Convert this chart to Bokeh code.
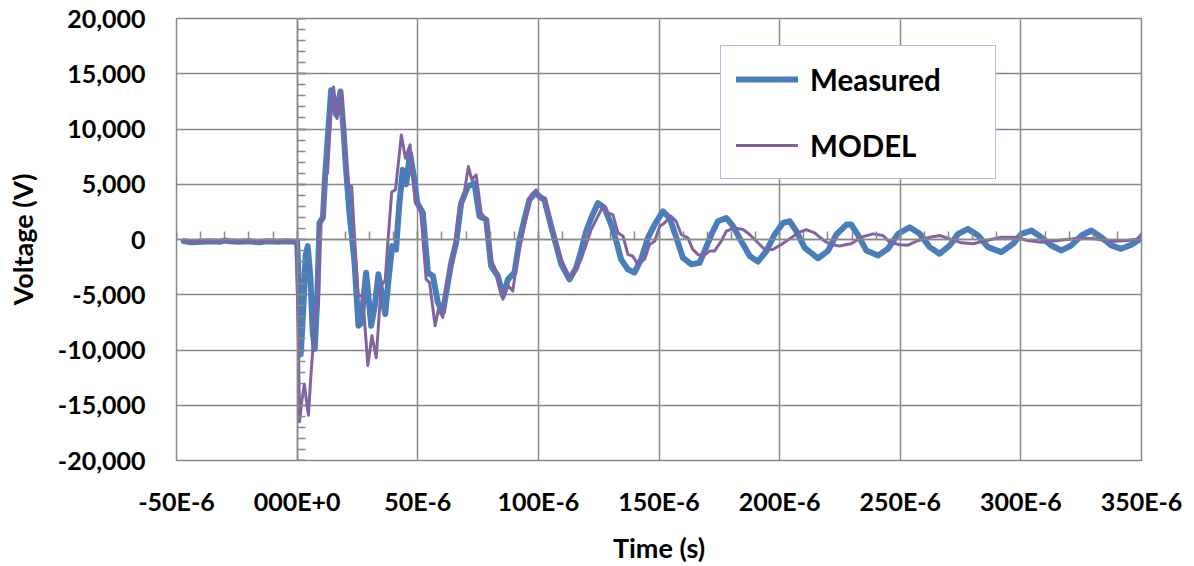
from bokeh.plotting import figure
from bokeh.models import (LinearAxis, SingleIntervalTicker, NumeralTickFormatter,
                          CustomJSTickFormatter, Legend, LegendItem, Range1d, FixedTicker)
from bokeh.embed import file_html
from bokeh.resources import INLINE

# ---------------- data (time in microseconds, voltage in V) ----------------
measured_t = [-47, -44, -40, -36, -32, -30, -28, -24, -20, -16, -12, -8, -4, -1, 0.0,
              0.5, 1.5, 2.5, 3.5, 4.4, 5.5, 6.5, 7.3, 8.3, 9.3, 10.7, 11.6, 12.8, 14.1,
              15.0, 16.2, 17.2, 18.0, 19.2, 20.3, 21.7, 23.8, 25.4, 26.5, 28.6, 30.7,
              32.2, 33.7, 36.5, 37.9, 39.4, 41.0, 42.4, 43.8, 45.2, 46.8, 48.6, 49.8,
              52.1, 54.2, 56.3, 58.3, 60.4, 61.8, 63.9, 65.9, 68.0, 70.8, 73.5, 75.6,
              78.4, 80.4, 83.2, 85.3, 87.4, 90.1, 92.2, 94.2, 96.3, 98.8, 100.5, 102.5,
              105.3, 109.5, 112.9, 115.7, 117.7, 119.8, 121.9, 124.7, 127.4, 130.2, 132.3,
              134.3, 137.1, 139.8, 142.6, 145.4, 148.2, 151.6, 154.4, 157.2, 159.9, 163.4,
              166.8, 168.9, 171.7, 174.4, 177.9, 180.7, 184.1, 187.6, 191.0, 194.5, 197.9,
              201.4, 204.2, 206.9, 210.4, 215.9, 220.0, 223.5, 227.7, 229.7, 232.5, 235.9,
              240.8, 244.9, 249.1, 253.9, 258.1, 262.2, 266.3, 270.5, 274.0, 278.1, 282.3,
              286.4, 291.9, 296.8, 300.2, 304.4, 308.5, 312.6, 316.8, 320.9, 325.1, 329.2,
              333.3, 337.5, 341.6, 345.8, 348.5, 350.6]
measured_v = [-150, -250, -200, -150, -200, -100, -150, -200, -150, -250, -150, -200, -150, -200, -200,
              -3000, -10400, -6500, -1500, -600, -3500, -8500, -9900, -5500, 1500, 2000, 5700, 9500, 13500,
              12800, 11300, 12500, 13400, 10000, 6300, 2400, -2100, -7800, -7600, -3000, -7800,
              -6000, -3150, -6750, -3600, -600, -900, 3300, 6300, 5000, 7800, 5400, 3300,
              2400, -3000, -3300, -5700, -6600, -4800, -2100, -300, 3300, 4800, 5100, 2100,
              1800, -2400, -3300, -5100, -3600, -3000, 0, 1800, 3600, 4200, 3900, 3600,
              1200, -2250, -3600, -2550, -1050, 750, 1950, 3300, 2850, 1350, -150,
              -1800, -2700, -3000, -1800, 150, 1350, 2550, 1950, 150, -1650, -2250,
              -2100, -1050, 450, 1650, 1950, 1200, -150, -1500, -2000, -1050, 450,
              1500, 1650, 750, -750, -1700, -1050, 450, 1350, 1350, 400, -990,
              -1440, -840, 510, 1110, 510, -690, -1290, -540, 510, 960, 360,
              -690, -1140, -390, 510, 810, 210, -540, -990, -540, 360, 810,
              210, -540, -840, -480, -90, 420]

model_t = [-47, -30, -15, -0.3, 0.5, 1.0, 2.0, 3.0, 3.8, 4.7, 5.5, 6.5, 7.5, 8.8, 9.5, 10.5,
           11.3, 12.6, 14.0, 15.1, 16.5, 18.3, 19.7, 21.0, 22.6, 24.0, 25.3, 27.2, 29.3,
           31.0, 32.8, 34.8, 36.5, 37.6, 39.2, 40.8, 43.2, 44.9, 46.8, 49.0, 51.1, 53.5,
           54.9, 57.2, 58.6, 60.4, 63.2, 64.6, 67.3, 68.7, 71.0, 72.4, 74.2, 76.3, 78.4,
           80.4, 82.5, 85.3, 87.4, 89.4, 91.5, 93.6, 95.0, 97.0, 99.1, 101.2, 102.9, 105.3,
           109.5, 112.9, 115.7, 117.7, 119.8, 121.9, 124.0, 126.7, 128.8, 130.9, 133.0,
           135.1, 137.1, 139.1, 141.2, 144.0, 146.1, 148.2, 150.3, 152.3, 155.0, 157.1,
           159.2, 162.0, 164.0, 166.1, 168.2, 171.0, 173.0, 175.8, 177.9, 181.3, 184.8,
           187.6, 191.0, 193.8, 197.2, 200.7, 204.8, 207.6, 211.0, 214.5, 218.6, 221.4,
           224.9, 227.7, 229.7, 233.8, 238.7, 242.8, 245.6, 249.8, 253.2, 257.4, 262.2,
           266.4, 270.5, 275.4, 280.2, 285.8, 291.9, 297.4, 302.9, 308.5, 315.4, 323.7,
           330.6, 337.5, 344.4, 350.6]
model_v = [-150, -150, -150, -150, -9000, -16500, -14500, -13100, -14500, -15900, -13000, -9900, -6300, -6000, 1500, 1800,
           5900, 6000, 11500, 13800, 10960, 13400, 9000, 5000, 4800, -500, -5100, -5100, -11400,
           -8700, -10700, -4200, -3700, -300, 4300, 4500, 9460, 7360, 8560, 3300, 2850, -3600,
           -3900, -7800, -6300, -7050, -2400, -2100, 3150, 3450, 6600, 5400, 5850, 2400, 1800,
           -1800, -2850, -5400, -4200, -4650, -1500, 600, 2100, 4050, 4500, 3600, 3750, 1050,
           -1800, -3450, -2700, -1800, -450, 900, 1800, 3000, 2400, 2250, 600,
           300, -1350, -1500, -2250, -1800, -450, -150, 1200, 1500, 2100, 1650,
           450, 150, -900, -1350, -1500, -1050, -1050, -150, 750, 1050, 900,
           450, -300, -900, -900, -450, 150, 600, 900, 600, -150, -450,
           -600, -450, -390, 210, 510, 360, -240, -480, -510, -90, 210,
           360, 60, -300, -390, -90, 210, 210, -90, -240, -90, 120,
           60, -180, -90, 120]

x_tick_values = [-50, 0, 50, 100, 150, 200, 250, 300, 350]
x_tick_labels = ["-50E-6", "000E+0", "50E-6", "100E-6", "150E-6", "200E-6", "250E-6", "300E-6", "350E-6"]
y_tick_values = [-20000, -15000, -10000, -5000, 0, 5000, 10000, 15000, 20000]

series_names = ["Measured", "MODEL"]

# ---------------- styling ----------------
FONT = "Lato"
GRID = "#898989"
BLUE = "#4a7ebb"
PURPLE = "#8064a2"

p = figure(width=1194, height=566, output_backend="svg", toolbar_location=None,
           x_range=Range1d(-50, 350), y_range=Range1d(-20000, 20000),
           min_border_left=176, min_border_right=53, min_border_top=18, min_border_bottom=104,
           background_fill_color="white", border_fill_color="white")

p.outline_line_color = GRID
p.outline_line_width = 1.5

# label axes at the frame edges
p.xaxis.ticker = FixedTicker(ticks=x_tick_values)
p.xaxis.major_label_overrides = dict(zip(x_tick_values, x_tick_labels))
p.yaxis.ticker = FixedTicker(ticks=y_tick_values)
p.yaxis.formatter = NumeralTickFormatter(format="0,0")
p.xaxis.axis_label = "Time (s)"
p.yaxis.axis_label = "Voltage (V)"
for ax in (p.xaxis[0], p.yaxis[0]):
    ax.axis_line_color = None
    ax.major_tick_line_color = None
    ax.minor_tick_line_color = None
    ax.major_tick_out = 0
    ax.major_tick_in = 0
    ax.minor_tick_out = 0
    ax.minor_tick_in = 0
    ax.major_label_text_font = FONT
    ax.major_label_text_font_style = "bold"
    ax.major_label_text_font_size = "25px"
    ax.major_label_text_color = "black"
    ax.axis_label_text_font = FONT
    ax.axis_label_text_font_style = "bold"
    ax.axis_label_text_font_size = "27px"
    ax.axis_label_text_color = "black"
p.xaxis.major_label_standoff = 25
p.xaxis.axis_label_standoff = 12
p.yaxis.major_label_standoff = 31
p.yaxis.axis_label_standoff = 16

p.grid.grid_line_color = GRID
p.grid.grid_line_width = 1.5

# axes crossing at zero, with minor ticks
blank = CustomJSTickFormatter(code="return ''")
yfix = LinearAxis(fixed_location=0, ticker=SingleIntervalTicker(interval=5000, num_minor_ticks=5),
                  formatter=blank, axis_line_color=GRID, axis_line_width=1.5,
                  major_tick_in=8, major_tick_out=0, minor_tick_in=8, minor_tick_out=0,
                  major_tick_line_color=GRID, minor_tick_line_color=GRID,
                  major_tick_line_width=1.5, minor_tick_line_width=1.5)
p.add_layout(yfix, "left")
xfix = LinearAxis(fixed_location=0, ticker=SingleIntervalTicker(interval=50, num_minor_ticks=5),
                  formatter=blank, axis_line_color=GRID, axis_line_width=1.5,
                  major_tick_in=8, major_tick_out=0, minor_tick_in=8, minor_tick_out=0,
                  major_tick_line_color=GRID, minor_tick_line_color=GRID,
                  major_tick_line_width=1.5, minor_tick_line_width=1.5)
p.add_layout(xfix, "below")

r1 = p.line(measured_t, measured_v, line_color=BLUE, line_width=6, line_join="round", line_cap="round")
r2 = p.line(model_t, model_v, line_color=PURPLE, line_width=3, line_join="round", line_cap="round")

legend = Legend(items=[LegendItem(label=series_names[0], renderers=[r1]),
                       LegendItem(label=series_names[1], renderers=[r2])],
                location=(544, 281), orientation="vertical", margin=0, padding=15,
                spacing=30, label_height=36, glyph_height=36, glyph_width=62,
                label_standoff=12, label_width=170,
                border_line_color="#4f81bd", border_line_width=1.5,
                background_fill_color="white", background_fill_alpha=1.0,
                label_text_font=FONT, label_text_font_style="bold",
                label_text_font_size="29.5px", label_text_color="black")
p.add_layout(legend)

open("out.html", "w").write(file_html(p, INLINE))
